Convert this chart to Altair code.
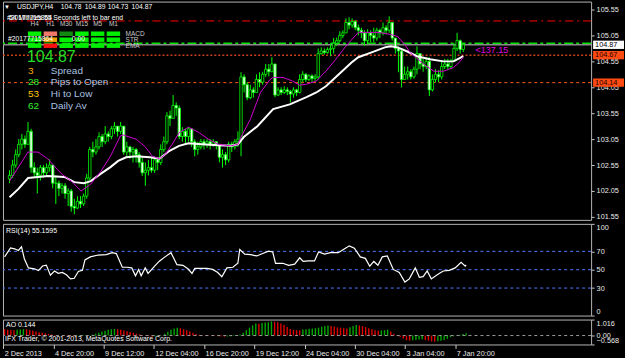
import altair as alt
import pandas as pd

FONT = "Liberation Sans"

# ---------------- data ----------------
closes = [
    102.35, 102.55, 102.75, 102.95, 103.05, 102.95, 103.20, 102.50, 102.40, 102.35,
    102.50, 102.40, 102.50, 102.55, 102.20, 102.20, 102.10, 102.15, 102.00, 102.05,
    101.75, 101.72, 101.85, 101.80, 101.95, 102.30, 102.85, 102.80, 102.90, 103.10,
    103.00, 103.15, 103.10, 103.25, 103.30, 103.20, 103.30, 102.80, 102.90, 102.80,
    102.85, 102.75, 102.60, 102.40, 102.45, 102.50, 102.45, 102.65, 102.60, 102.85,
    103.00, 103.50, 103.45, 103.70, 103.65, 103.10, 103.20, 103.10, 103.25, 103.00,
    102.85, 102.90, 103.00, 102.95, 103.00, 102.95, 103.00, 102.95, 102.70, 102.75,
    102.65, 102.95, 102.90, 103.00, 103.05, 104.25, 104.10, 103.85, 104.00, 103.95,
    104.20, 104.15, 104.30, 104.40, 104.35, 104.50, 103.90, 104.00, 103.95, 104.00,
    103.97, 103.92, 104.00, 103.95, 104.20, 104.30, 104.20, 104.27, 104.22, 104.25,
    104.70, 104.75, 104.72, 104.78, 104.80, 104.90, 104.95, 105.05, 105.10, 105.30,
    105.25, 105.32, 105.20, 105.15, 105.10, 104.95, 105.10, 105.05, 105.00, 105.15,
    105.10, 105.20, 105.15, 105.30, 105.00, 104.80, 104.75, 104.20, 104.30, 104.35,
    104.25, 104.40, 104.70, 104.50, 104.45, 104.55, 104.00, 104.20, 104.30, 104.25,
    104.45, 104.50, 104.45, 104.55, 104.80, 104.95, 104.78, 104.87,
]
highs = [
    102.45, 102.65, 102.85, 103.05, 103.15, 103.12, 103.38, 103.25, 102.60, 102.50,
    102.55, 102.55, 102.58, 102.66, 102.55, 102.35, 102.25, 102.20, 102.20, 102.10,
    102.09, 101.90, 101.95, 101.95, 102.00, 102.38, 102.90, 103.00, 103.05, 103.18,
    103.15, 103.30, 103.20, 103.30, 103.38, 103.30, 103.38, 103.30, 103.00, 102.92,
    102.90, 102.88, 102.80, 102.70, 102.60, 102.65, 102.70, 102.72, 102.70, 102.95,
    103.10, 103.57, 103.60, 103.90, 103.76, 103.70, 103.28, 103.25, 103.28, 103.20,
    103.05, 103.00, 103.05, 103.05, 103.05, 103.05, 103.05, 103.00, 102.95, 102.85,
    102.80, 103.00, 103.00, 103.05, 103.20, 104.34, 104.30, 104.15, 104.10, 104.05,
    104.30, 104.34, 104.35, 104.50, 104.50, 104.63, 104.50, 104.05, 104.05, 104.07,
    104.05, 104.00, 104.05, 104.02, 104.30, 104.36, 104.32, 104.30, 104.30, 104.30,
    104.80, 104.82, 104.80, 104.82, 104.90, 105.00, 105.01, 105.13, 105.15, 105.38,
    105.40, 105.38, 105.35, 105.26, 105.20, 105.15, 105.17, 105.15, 105.20, 105.20,
    105.18, 105.30, 105.25, 105.42, 105.30, 105.00, 104.84, 104.80, 104.45, 104.45,
    104.40, 104.45, 104.84, 104.70, 104.60, 104.63, 104.63, 104.30, 104.40, 104.38,
    104.55, 104.60, 104.60, 104.60, 104.90, 105.10, 104.97, 104.89,
]
lows = [
    102.20, 102.30, 102.50, 102.70, 102.85, 102.88, 102.95, 102.40, 102.30, 102.00,
    102.25, 102.30, 102.35, 102.42, 102.10, 101.80, 101.95, 102.00, 101.90, 101.76,
    101.65, 101.60, 101.70, 101.72, 101.76, 101.90, 102.25, 102.70, 102.75, 102.85,
    102.90, 102.95, 103.00, 103.05, 103.15, 103.10, 103.15, 102.75, 102.70, 102.67,
    102.60, 102.60, 102.50, 102.34, 102.15, 102.35, 102.40, 102.40, 102.45, 102.55,
    102.80, 102.95, 103.30, 103.45, 103.50, 103.05, 103.00, 102.95, 103.00, 102.90,
    102.72, 102.75, 102.85, 102.85, 102.88, 102.85, 102.90, 102.85, 102.60, 102.50,
    102.55, 102.60, 102.80, 102.85, 102.90, 102.72, 103.95, 103.80, 103.82, 103.85,
    103.95, 104.05, 104.10, 104.25, 104.26, 104.35, 103.86, 103.88, 103.90, 103.92,
    103.90, 103.76, 103.85, 103.88, 103.93, 104.15, 104.15, 104.17, 104.15, 104.17,
    104.20, 104.68, 104.68, 104.70, 104.65, 104.70, 104.85, 104.92, 105.00, 105.10,
    105.17, 105.20, 105.15, 105.05, 105.00, 104.85, 104.88, 104.92, 104.92, 104.95,
    105.00, 105.05, 105.07, 105.10, 104.95, 104.70, 104.34, 104.05, 104.20, 104.20,
    104.20, 104.22, 104.30, 104.40, 104.35, 104.40, 103.88, 103.97, 104.15, 104.15,
    104.20, 104.40, 104.38, 104.40, 104.55, 104.75, 104.70, 104.73,
]
first_open = 102.28

ma_fast_bar = [0, 6, 9.2, 12.4, 16.8, 20, 23.2, 26.3, 29.5, 32.7, 35.9, 36.8, 41, 44, 46.3,
               48.6, 50.5, 52.7, 55, 58, 61.3, 64.4, 67.6, 71.7, 74, 75, 78, 81.3, 84.4, 85.4,
               88.6, 91.7, 94, 96.2, 99.4, 102.5, 105.7, 108.9, 113, 119.4, 123.5, 125.7, 128,
               129.8, 134.3, 137.5, 140.6, 143.8, 145.7, 147]
ma_fast_val = [102.24, 102.80, 102.80, 102.67, 102.38, 102.24, 102.05, 102.18, 102.42, 102.72,
               103.11, 103.13, 103.05, 102.90, 102.72, 102.67, 102.76, 102.95, 103.18, 103.28,
               103.18, 103.05, 102.95, 102.92, 102.95, 103.09, 103.43, 103.95, 104.20, 104.24,
               104.24, 104.17, 104.09, 104.11, 104.17, 104.36, 104.59, 104.84, 105.11, 105.11,
               105.07, 105.03, 104.88, 104.72, 104.49, 104.36, 104.36, 104.43, 104.53, 104.63]

ma_slow_bar = [0, 2.9, 6, 9.2, 12.4, 17.8, 21, 24.1, 26.3, 29.5, 32.7, 35.2, 37.8, 41, 45.4,
               48.6, 51.7, 54.9, 58, 62.2, 67.6, 71.7, 74, 75.9, 80.3, 85.4, 90.8, 96.2, 99.4,
               102.5, 106.7, 110.8, 113, 117.1, 121.6, 123.5, 125.7, 128.9, 132, 136.2, 140.6,
               143.8, 145.7, 147]
ma_slow_val = [101.93, 102.09, 102.30, 102.32, 102.34, 102.32, 102.22, 102.20, 102.24, 102.38,
               102.51, 102.63, 102.70, 102.72, 102.70, 102.67, 102.82, 102.92, 102.97, 102.95,
               102.93, 102.92, 102.95, 103.09, 103.30, 103.63, 103.72, 103.86, 103.95, 104.07,
               104.30, 104.53, 104.63, 104.72, 104.82, 104.84, 104.82, 104.74, 104.65, 104.59,
               104.55, 104.55, 104.61, 104.65]

rsi_bar = [0, 1.9, 3.2, 4.4, 5.4, 6.3, 7.6, 9.5, 10.8, 12.1,
           13.3, 14.6, 15.9, 17.1, 18.4, 19.7, 21.0, 22.2, 23.5, 24.8,
           25.6, 27.3, 29.8, 32.4, 34.3, 35.6, 37.5, 39.0, 40.5, 41.7,
           42.7, 43.5, 44.8, 45.7, 47.3, 49.2, 51.1, 53.0, 54.9, 56.8,
           58.4, 59.7, 60.6, 62.5, 64.4, 66.3, 67.9, 69.2, 70.8, 72.7,
           74.3, 74.9, 76.5, 78.4, 80.3, 82.2, 84.1, 85.4, 86.3, 88.6,
           90.5, 92.4, 94.0, 95.1, 96.8, 98.7, 100.0, 101.9, 103.8, 106.3,
           108.3, 109.8, 111.4, 113.3, 114.9, 116.3, 117.6, 118.9, 120.3, 121.9,
           123.8, 125.7, 127.5, 128.9, 130.8, 132.1, 133.3, 134.6, 135.9, 137.8,
           139.7, 141.6, 143.5, 145.4, 146.7, 147.0]
rsi_val = [64, 73.8, 72.8, 71, 75, 62, 52, 51, 49, 54,
           55, 44, 48.6, 46, 47, 44.5, 40, 40.7, 48, 49.3,
           60.7, 64, 66, 66.5, 68.6, 67.6, 52.7, 52.7, 52, 43.4,
           50.3, 43.4, 52, 46, 52, 59, 64, 68.6, 55.5, 54.8,
           51, 46, 51.4, 51.4, 51.4, 50.3, 47, 42.4, 52, 52.7,
           57, 72, 67, 66.5, 65, 67.6, 70.3, 69.3, 57, 57,
           54.8, 56, 63, 59, 59.6, 59.6, 69.3, 67, 68.6, 68.6,
           72.8, 76, 73.5, 64, 62.4, 53.8, 59, 54.8, 64, 65,
           50.3, 47, 36.5, 40, 52, 41.7, 42.4, 48.6, 40, 44.5,
           48.6, 49.3, 52, 58, 53.8, 55.16]

ao_val = [
    0.40, 0.37, 0.35, 0.33, 0.36, 0.38, 0.41, 0.40, 0.36, 0.31,
    0.26, 0.21, 0.17, 0.14, 0.10, 0.07, 0.04, 0.02, 0.00, -0.02,
    -0.04, -0.05, -0.06, -0.05, -0.04, -0.03, -0.01, 0.02, 0.06, 0.12,
    0.18, 0.25, 0.31, 0.36, 0.40, 0.42, 0.40, 0.36, 0.32, 0.27,
    0.22, 0.17, 0.12, 0.07, 0.02, -0.02, -0.05, -0.07, -0.06, -0.04,
    0.02, 0.12, 0.24, 0.36, 0.45, 0.50, 0.47, 0.40, 0.33, 0.25,
    0.17, 0.10, 0.05, 0.03, 0.02, 0.02, 0.00, -0.02, -0.04, -0.06,
    -0.07, -0.06, -0.05, -0.03, 0.00, 0.06, 0.18, 0.34, 0.50, 0.65,
    0.76, 0.75, 0.80, 0.83, 0.85, 0.90, 0.88, 0.84, 0.76, 0.68,
    0.55, 0.42, 0.36, 0.34, 0.33, 0.38, 0.40, 0.43, 0.45, 0.47,
    0.50, 0.56, 0.61, 0.63, 0.61, 0.57, 0.52, 0.50, 0.47, 0.45,
    0.52, 0.60, 0.67, 0.65, 0.60, 0.54, 0.47, 0.40, 0.33, 0.30,
    0.33, 0.35, 0.37, 0.25, 0.12, 0.00, -0.10, -0.20, -0.30, -0.33,
    -0.30, -0.28, -0.25, -0.24, -0.28, -0.33, -0.38, -0.40, -0.37, -0.33,
    -0.28, -0.20, -0.10, -0.05, 0.00, 0.05, 0.10, 0.144,
]

date_labels = ['2 Dec 2013', '4 Dec 20:00', '9 Dec 12:00', '12 Dec 04:00', '16 Dec 20:00',
               '19 Dec 12:00', '24 Dec 04:00', '30 Dec 04:00', '3 Jan 04:00', '7 Jan 20:00']
date_step = 16
price_ticks = [101.55, 102.05, 102.55, 103.05, 103.55, 104.05, 104.55, 105.05, 105.55]
rsi_ticks = [100, 70, 50, 30, 0]
rsi_levels = [70, 50, 30]
ao_ticks = [1.016, 0, -0.568]

stop_level = [105.33]
target_level = [104.90]
bid_level = [104.87]
open_level = [104.67]
low_level = [104.14]

hud_timeframes = ['H4', 'H1', 'M30', 'M15', 'M5', 'M1']
hud_rows = ['MACD', 'STR', 'EMA']
hud_states = [
    ['up', 'weak_down', 'weak_up', 'up', 'up', 'up'],
    ['up', 'mid_down', 'up', 'up', 'up', 'up'],
    ['up', 'down', 'up', 'up', 'up', 'up'],
]

# ---------------- tables ----------------
n = len(closes)
opens = [first_open] + closes[:-1]
candles = pd.DataFrame({'bar': list(range(n)), 'open': opens, 'high': highs,
                        'low': lows, 'close': closes})
candles['dir'] = ['bull' if c > o else 'bear' for o, c in zip(opens, closes)]
fast_df = pd.DataFrame({'bar': ma_fast_bar, 'val': ma_fast_val})
slow_df = pd.DataFrame({'bar': ma_slow_bar, 'val': ma_slow_val})
rsi_df = pd.DataFrame({'bar': rsi_bar, 'rsi': rsi_val})
ao_df = pd.DataFrame({'bar': list(range(len(ao_val))), 'ao': ao_val, 'zero': 0.0})
ao_df['dir'] = ['up' if (i > 0 and v > ao_val[i - 1]) else 'down' for i, v in enumerate(ao_val)]
hud_df = pd.DataFrame([{'c': c, 'r': r, 'state': hud_states[r][c]}
                       for r in range(len(hud_rows)) for c in range(len(hud_timeframes))])
tf_df = pd.DataFrame({'tf': hud_timeframes, 'c': list(range(len(hud_timeframes)))})
row_df = pd.DataFrame({'name': hud_rows, 'r': list(range(len(hud_rows)))})

# ---------------- scales / axes ----------------
W = 590
X0 = -0.5
xs = alt.Scale(domain=[X0, X0 + W / 3.15], nice=False, zero=False)
ys = alt.Scale(domain=[101.492, 105.704], nice=False, zero=False)
X = alt.X('bar:Q', scale=xs, axis=None)
price_axis = alt.Axis(orient='right', values=price_ticks, format='.2f', title='',
                      tickSize=3, labelPadding=2, labelFlush=False)


def yp(field):
    return alt.Y(field, scale=ys, axis=price_axis)


def txt(s, x, y, color='#ffffff', size=7.3, **kw):
    return alt.Chart(pd.DataFrame({'t': [s]})).mark_text(
        align='left', baseline='middle', font=FONT, fontSize=size, color=color, **kw
    ).encode(text='t:N', x=alt.value(x), y=alt.value(y))


def hline(vals, color, dash, width):
    return alt.Chart(pd.DataFrame({'p': vals})).mark_rule(
        color=color, strokeDash=dash, strokeWidth=width
    ).encode(y=yp('p:Q'))


lv_stop = hline(stop_level, '#ff0000', [8, 4, 2, 4], 1)
lv_target = hline(target_level, '#00e000', [9, 3, 3, 3], 1.3)
lv_bid = alt.Chart(pd.DataFrame({'p': bid_level})).mark_rule(
    color='#8a8a8a', strokeWidth=1.5).encode(y=yp('p:Q'))
lv_open = hline(open_level, '#c8401a', [2, 2], 1.5)
lv_low = hline(low_level, '#ff5a1a', [3, 3], 1)

wicks = alt.Chart(candles).mark_rule(color='#00ff00', strokeWidth=1).encode(
    x=X, y=yp('low:Q'), y2='high:Q')
bodies = alt.Chart(candles).mark_bar(size=2.4, stroke='#00ff00', strokeWidth=0.8).encode(
    x=X, y=yp('open:Q'), y2='close:Q',
    fill=alt.Fill('dir:N', scale=alt.Scale(domain=['bull', 'bear'],
                                           range=['#000000', '#f0fff0']), legend=None))
ma_slow = alt.Chart(slow_df).mark_line(color='#ffffff', strokeWidth=2).encode(x=X, y=yp('val:Q'))
ma_fast = alt.Chart(fast_df).mark_line(color='#d000d0', strokeWidth=1).encode(x=X, y=yp('val:Q'))


def box(vals, fill, textcolor):
    base = alt.Chart(pd.DataFrame({'p': vals})).transform_calculate(
        top='datum.p + 0.08', bot='datum.p - 0.08', label="format(datum.p, '.2f')")
    r = base.mark_rect(fill=fill).encode(x=alt.value(W + 2), x2=alt.value(W + 33),
                                         y=yp('top:Q'), y2='bot:Q')
    t = base.mark_text(align='left', baseline='middle', font=FONT, fontSize=7.3,
                       color=textcolor).encode(x=alt.value(W + 4), y=yp('p:Q'), text='label:N')
    return [r, t]


price_group = alt.layer(lv_low, lv_open, lv_target, lv_bid, lv_stop, wicks, bodies, ma_slow, ma_fast,
                        *box(bid_level, '#ffffff', '#000000'),
                        *box(open_level + low_level, '#ff4a12', '#200000'))

hud_x = alt.Scale(domain=[0, 6], range=[25, 119.8], nice=False, zero=False)
hud_y = alt.Scale(domain=[0, 3], range=[30, 48], nice=False, zero=False)
hud_rects = alt.Chart(hud_df).transform_calculate(
    c1='datum.c + 0.855', r1='datum.r + 0.75').mark_rect().encode(
    x=alt.X('c:Q', scale=hud_x, axis=None), x2='c1:Q',
    y=alt.Y('r:Q', scale=hud_y, axis=None), y2='r1:Q',
    color=alt.Color('state:N', scale=alt.Scale(
        domain=['up', 'weak_up', 'weak_down', 'mid_down', 'down'],
        range=['#00ee00', '#108a10', '#f07868', '#f0a000', '#ff1010']), legend=None))
hud_tf = alt.Chart(tf_df).transform_calculate(cm='datum.c + 0.43').mark_text(
    font=FONT, fontSize=6.5, color='#c8c8c8', baseline='middle').encode(
    x=alt.X('cm:Q', scale=hud_x, axis=None), y=alt.value(23), text='tf:N')
hud_rl = alt.Chart(row_df).transform_calculate(rm='datum.r + 0.375').mark_text(
    font=FONT, fontSize=6.5, color='#c8c8c8', align='left', baseline='middle').encode(
    x=alt.value(123), y=alt.Y('rm:Q', scale=hud_y, axis=None), text='name:N')
hud = alt.layer(hud_rects, hud_tf, hud_rl)

HS = 6.8
texts = [
    txt('\u25bc', 1, 5, size=6),
    txt('USDJPY,H4', 14, 5, size=HS),
    txt('104.78', 58, 5, size=HS), txt('104.89', 82, 5, size=HS),
    txt('104.73', 105, 5, size=HS), txt('104.87', 129, 5, size=HS),
    txt('#20177715864', 4, 16, size=HS),
    txt('54 Minutes 55 Seconds left to bar end', 6, 16, size=HS),
    txt('#20177715864', 5, 38, size=HS), txt('0.00', 69, 38, size=HS),
    txt('104.87', 24, 56, color='#22dd22', size=16),
    txt('3', 25, 70, color='#ffaa00', size=10), txt('Spread', 48, 70, color='#a9c1e0', size=10),
    txt('28', 25, 81, color='#33ee33', size=10), txt('Pips to Open', 48, 81, color='#a9c1e0', size=10),
    txt('53', 25, 93, color='#ffc400', size=10), txt('Hi to Low', 48, 93, color='#a9c1e0', size=10),
    txt('62', 25, 105, color='#33ee33', size=10), txt('Daily Av', 48, 105, color='#a9c1e0', size=10),
    txt('<137.15', 474, 49, color='#e000e0', size=9),
]

main = alt.layer(price_group, hud, *texts).resolve_scale(
    x='independent', y='independent', color='independent').properties(width=W, height=219)

# ---------------- RSI ----------------
rsi_y = alt.Scale(domain=[0, 100], nice=False, zero=False)
rsi_axis = alt.Axis(orient='right', values=rsi_ticks, title='', tickSize=3, labelPadding=2,
                    labelFlush=True)
rsi_lv = alt.Chart(pd.DataFrame({'lvl': rsi_levels})).mark_rule(
    color='#4f78ff', strokeDash=[3, 3], strokeWidth=1).encode(
    y=alt.Y('lvl:Q', scale=rsi_y, axis=rsi_axis))
rsi_line = alt.Chart(rsi_df).mark_line(color='#ffffff', strokeWidth=1.2).encode(
    x=X, y=alt.Y('rsi:Q', scale=rsi_y, axis=rsi_axis))
rsi = alt.layer(rsi_lv, rsi_line, txt('RSI(14) 55.1595', 3, 7, size=7)).properties(width=W, height=92)

# ---------------- AO ----------------
ao_y = alt.Scale(domain=[-0.568, 1.016], nice=False, zero=False)
ao_axis = alt.Axis(orient='right', values=ao_ticks, title='', tickSize=3, labelPadding=2,
                   labelFlush=True, labelOverlap=False,
                   labelExpr="datum.value == 0 ? '0.00' : format(datum.value, '.3f')")
date_expr = '[' + ','.join("'%s'" % d for d in date_labels) + ']' + \
            '[round(datum.value / %d)]' % date_step
date_axis = alt.Axis(orient='bottom',
                     values=[i * date_step - 0.45 for i in range(len(date_labels))],
                     labelExpr=date_expr, title='', tickSize=4, labelAlign='left',
                     labelBaseline='top', labelPadding=1, labelOffset=1, labelFlush=False,
                     labelOverlap=False)
ao_bars = alt.Chart(ao_df).mark_rule(strokeWidth=1.4).encode(
    x=alt.X('bar:Q', scale=xs, axis=date_axis),
    y=alt.Y('ao:Q', scale=ao_y, axis=ao_axis), y2='zero:Q',
    color=alt.Color('dir:N', scale=alt.Scale(domain=['up', 'down'],
                                             range=['#00a800', '#e00000']), legend=None))
ao_zero = alt.Chart(pd.DataFrame({'z': [0.0]})).mark_rule(
    color='#9a9a9a', strokeDash=[3, 3], strokeWidth=1).encode(
    y=alt.Y('z:Q', scale=ao_y, axis=ao_axis))
ao = alt.layer(ao_bars, ao_zero, txt('AO 0.144', 3, 5, size=7),
               txt('IFX Trader, \u00a9 2001-2013, MetaQuotes Software Corp.', 2, 20, size=7)
               ).properties(width=W, height=25)

chart = alt.vconcat(main, rsi, ao, spacing=2).properties(
    background='#000000', padding={'left': 1, 'top': 0, 'right': 0, 'bottom': 0}
).configure_view(stroke='#b4b4b4', strokeWidth=1).configure_axis(
    labelFont=FONT, labelFontSize=7.3, labelColor='#ececec', tickColor='#c8c8c8',
    domain=False, grid=False)

chart.save("out.html", embed_options={"renderer": "svg", "actions": False})
